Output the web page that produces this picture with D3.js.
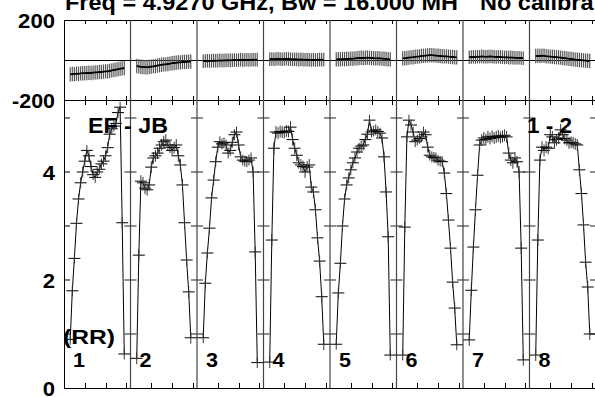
<!DOCTYPE html>
<html>
<head>
<meta charset="utf-8">
<script src="https://cdn.jsdelivr.net/npm/d3@7"></script>
<style>
  body { margin: 0; background: #fff; overflow: hidden; }
  svg { display: block; }
  text { font-family: "Liberation Sans", Arial, Helvetica, sans-serif; font-weight: bold; fill: #000; }
</style>
</head>
<body>
<div id="chart"></div>
<script>
// POSSM-style spectrum: phase (top) and amplitude (bottom) for 8 IFs

const titleLeft = "Freq = 4.9270 GHz, Bw = 16.000 MH";
const titleRight = "No calibration";
const baselineLabel = "EF - JB";
const antLabel = "1 - 2";
const stokesLabel = "(RR)";
const ifNames = ["1", "2", "3", "4", "5", "6", "7", "8"];

// channels plotted in each IF (of 32)
const channels = [3, 4, 5, 6, 7, 8, 9, 10, 11, 12, 13, 14, 15, 16, 17, 18, 19, 20,
                  21, 22, 23, 24, 25, 26, 27, 28, 29];
const chanTicks = [10, 20, 30];
const nChan = 32;

// amplitude per IF, one value per channel
const amp1 = [0.9, 1.8, 2.4, 3.05, 3.5, 3.8, 4.0, 4.2, 4.4, 4.3, 4.1, 3.95, 3.9, 4.0, 4.05, 4.15, 4.2, 4.3, 4.45, 4.7, 4.8, 4.85, 4.9, 5.1, 5.2, 3.06, 0.63];
const amp2 = [0.55, 2.46, 3.83, 3.8, 3.7, 3.67, 3.76, 4.09, 4.26, 4.3, 4.35, 4.44, 4.5, 4.56, 4.59, 4.5, 4.46, 4.4, 4.45, 4.5, 4.3, 4.13, 3.76, 3.06, 2.37, 1.78, 0.93];
const amp3 = [0.93, 1.94, 2.5, 2.96, 3.52, 3.85, 4.19, 4.46, 4.56, 4.52, 4.54, 4.5, 4.35, 4.4, 4.55, 4.69, 4.74, 4.5, 4.28, 4.22, 4.2, 4.19, 4.22, 4.26, 4.0, 2.52, 0.47];
const amp4 = [0.48, 2.74, 4.44, 4.74, 4.72, 4.75, 4.74, 4.73, 4.76, 4.75, 4.83, 4.6, 4.44, 4.31, 4.17, 4.13, 4.1, 4.0, 4.09, 4.13, 3.72, 3.63, 3.3, 2.78, 2.35, 1.69, 0.81];
const amp5 = [0.81, 1.76, 2.31, 3.0, 3.5, 3.76, 3.89, 4.04, 4.17, 4.26, 4.37, 4.44, 4.48, 4.5, 4.6, 4.7, 4.96, 4.74, 4.76, 4.78, 4.75, 4.72, 4.63, 4.28, 3.63, 2.8, 0.61];
const amp6 = [0.61, 2.98, 4.65, 4.96, 4.87, 4.74, 4.56, 4.59, 4.62, 4.65, 4.74, 4.69, 4.46, 4.31, 4.28, 4.27, 4.26, 4.22, 4.2, 4.19, 3.98, 3.6, 3.11, 2.59, 1.96, 1.48, 0.8];
const amp7 = [0.89, 1.81, 2.61, 3.3, 3.94, 4.5, 4.59, 4.63, 4.6, 4.65, 4.62, 4.66, 4.63, 4.65, 4.67, 4.64, 4.66, 4.68, 4.65, 4.35, 4.22, 4.17, 4.26, 4.19, 4.0, 2.59, 0.52];
const amp8 = [0.61, 2.74, 4.22, 4.46, 4.4, 4.46, 4.44, 4.69, 4.65, 4.54, 4.6, 4.63, 4.78, 4.69, 4.62, 4.59, 4.54, 4.55, 4.54, 4.52, 4.5, 4.04, 3.6, 3.02, 2.33, 1.87, 1.0];
const ampErr = [0.1, 0.11, 0.1, 0.11, 0.1, 0.1, 0.11, 0.11];

// phase (deg) per IF
const ph1 = [-72, -70, -71, -68, -69, -67, -66, -66, -65, -64, -65, -63, -62, -62, -60, -60, -58, -57, -57, -55, -52, -50, -48, -46, -44, -42, -40];
const ph2 = [-30, -32, -34, -35, -36, -36, -35, -33, -32, -30, -28, -26, -24, -22, -22, -20, -18, -16, -15, -14, -12, -12, -10, -10, -9, -8, -8];
const ph3 = [-6, -5, -4, -5, -4, -3, -4, -3, -2, -3, -2, -2, -1, -2, -1, 0, -1, 0, 1, 0, 0, 1, 0, 1, 2, 1, 2];
const ph4 = [4, 5, 4, 5, 6, 5, 4, 5, 6, 5, 4, 3, 4, 3, 2, 3, 2, 1, 2, 1, 0, 1, 0, 1, 2, 1, 2];
const ph5 = [3, 4, 3, 5, 4, 6, 5, 7, 6, 8, 9, 10, 11, 10, 11, 12, 11, 10, 9, 8, 9, 8, 7, 6, 5, 4, 3];
const ph6 = [8, 9, 10, 12, 13, 14, 16, 17, 18, 20, 21, 22, 23, 24, 24, 23, 22, 21, 20, 19, 18, 18, 17, 16, 15, 14, 13];
const ph7 = [14, 15, 16, 15, 17, 16, 18, 17, 16, 17, 18, 17, 16, 15, 16, 15, 14, 13, 14, 12, 13, 12, 11, 10, 11, 10, 9];
const ph8 = [20, 21, 20, 22, 21, 19, 18, 17, 16, 15, 14, 13, 12, 10, 9, 8, 6, 5, 4, 2, 1, 0, -1, -2, -3, -4, -5];
const phErr = [36, 36, 34, 34, 36, 36, 34, 36];

const phTickVals = [-200, 200];
const ampTickVals = [1, 2, 3, 4, 5];
const ampLabelVals = [0, 2, 4];

const amps = [amp1, amp2, amp3, amp4, amp5, amp6, amp7, amp8];
const phases = [ph1, ph2, ph3, ph4, ph5, ph6, ph7, ph8];

const W = 595, H = 397;
const svg = d3.select("#chart").append("svg").attr("width", W).attr("height", H);

const left = 64, right = 64 + 8 * 66.5;
const x = d3.scaleLinear().domain([0, 8 * nChan]).range([left, right]);
const yPh = d3.scaleLinear().domain([-200, 200]).range([100, 20]);
const yAmp = d3.scaleLinear().domain([0, 5.333]).range([388, 100]);

const cx = (i, c) => x(i * nChan + c);

// the plot font is wider than Liberation Sans, so stretch each label
function label(txt, xx, yy, size, width) {
  return svg.append("text").attr("x", xx).attr("y", yy).attr("font-size", size)
    .attr("textLength", width).attr("lengthAdjust", "spacingAndGlyphs").text(txt);
}

// frames
const frame = svg.append("g").attr("stroke", "#000").attr("stroke-width", 1).attr("fill", "none");
[20, 100, 388].forEach(yy => frame.append("line")
  .attr("x1", left).attr("x2", W + 5).attr("y1", yy + 0.5).attr("y2", yy + 0.5));
frame.append("line").attr("x1", left + 0.5).attr("x2", left + 0.5).attr("y1", 20).attr("y2", 388);
frame.append("line").attr("x1", left).attr("x2", W + 5).attr("y1", yPh(0) + 0.5).attr("y2", yPh(0) + 0.5);

// IF separators and ticks
const sep = svg.append("g").attr("stroke", "#444").attr("stroke-width", 1.2);
d3.range(1, 9).forEach(i => {
  const xs = x(i * nChan);
  sep.append("line").attr("x1", xs).attr("x2", xs).attr("y1", 20).attr("y2", 388);
  ampTickVals.forEach(v => sep.append("line")
    .attr("x1", xs - 6).attr("x2", xs + 6).attr("y1", yAmp(v)).attr("y2", yAmp(v)));
});
ampTickVals.forEach(v => frame.append("line")
  .attr("x1", left).attr("x2", left + 6).attr("y1", yAmp(v)).attr("y2", yAmp(v)));

const tk = svg.append("g").attr("stroke", "#000").attr("stroke-width", 1);
d3.range(0, 8).forEach(i => {
  chanTicks.forEach(c => {
    const xt = Math.round(cx(i, c)) + 0.5;
    tk.append("line").attr("x1", xt).attr("x2", xt).attr("y1", 20).attr("y2", 24);
    tk.append("line").attr("x1", xt).attr("x2", xt).attr("y1", 96).attr("y2", 105);
    tk.append("line").attr("x1", xt).attr("x2", xt).attr("y1", 383).attr("y2", 388);
  });
});

// phase: error bars + line
amps.forEach((a, i) => {
  const g = svg.append("g");
  const ph = phases[i];
  g.selectAll("line").data(channels).enter().append("line")
    .attr("x1", (c) => cx(i, c)).attr("x2", (c) => cx(i, c))
    .attr("y1", (c, k) => yPh(ph[k] + phErr[i]))
    .attr("y2", (c, k) => yPh(ph[k] - phErr[i]))
    .attr("stroke", "#555").attr("stroke-width", 1.2);
  g.append("path")
    .attr("d", d3.line().x((c) => cx(i, c)).y((c, k) => yPh(ph[k]))(channels))
    .attr("fill", "none").attr("stroke", "#000").attr("stroke-width", 1.8);
});

// amplitude: line + crosses
amps.forEach((a, i) => {
  const g = svg.append("g");
  g.append("path")
    .attr("d", d3.line().x((c) => cx(i, c)).y((c, k) => yAmp(a[k]))(channels))
    .attr("fill", "none").attr("stroke", "#000").attr("stroke-width", 1);
  const pts = g.selectAll("g.pt").data(channels).enter().append("g").attr("class", "pt");
  pts.append("line")
    .attr("x1", (c) => cx(i, c) - 6).attr("x2", (c) => cx(i, c) + 6)
    .attr("y1", (c, k) => yAmp(a[k])).attr("y2", (c, k) => yAmp(a[k]))
    .attr("stroke", "#000").attr("stroke-width", 1);
  pts.append("line")
    .attr("x1", (c) => cx(i, c)).attr("x2", (c) => cx(i, c))
    .attr("y1", (c, k) => yAmp(a[k] + ampErr[i])).attr("y2", (c, k) => yAmp(a[k] - ampErr[i]))
    .attr("stroke", "#333").attr("stroke-width", 1);
});

// axis labels, right edge at x = 55
const labW = d => String(d).replace("-", "").length * 12.3 + (d < 0 ? 6 : 0);
const axPh = svg.append("g").attr("transform", "translate(55,0)")
  .call(d3.axisLeft(yPh).tickValues(phTickVals).tickSize(0).tickFormat(d => String(d)));
const axAmp = svg.append("g").attr("transform", "translate(55,0)")
  .call(d3.axisLeft(yAmp).tickValues(ampLabelVals).tickSize(0).tickFormat(d => String(d)));
[axPh, axAmp].forEach(a => {
  a.select(".domain").remove();
  a.selectAll("text").attr("font-size", 20).attr("font-family", "Liberation Sans, Arial, sans-serif")
    .attr("font-weight", "bold").attr("dy", "0.36em")
    .attr("text-anchor", "start").attr("x", d => -labW(d))
    .attr("textLength", d => labW(d)).attr("lengthAdjust", "spacingAndGlyphs");
});

// title: measure natural widths so the right part keeps the same stretch
const tl = svg.append("text").attr("font-size", 22).text(titleLeft);
const tr = svg.append("text").attr("font-size", 22).text(titleRight);
const stretch = 393 / tl.node().getComputedTextLength();
const trW = tr.node().getComputedTextLength() * stretch;
tl.remove(); tr.remove();
label(titleLeft, 65, 10, 22, 393);
label(titleRight, 480, 10, 22, trW);

label(baselineLabel, 88, 133, 22, 80);
label(antLabel, 527, 133, 22, 45);
label(stokesLabel, 63, 344, 20, 52);
ifNames.forEach((d, i) => label(d, x(i * nChan) + 9, 367, 21, 12));
</script>
</body>
</html>
